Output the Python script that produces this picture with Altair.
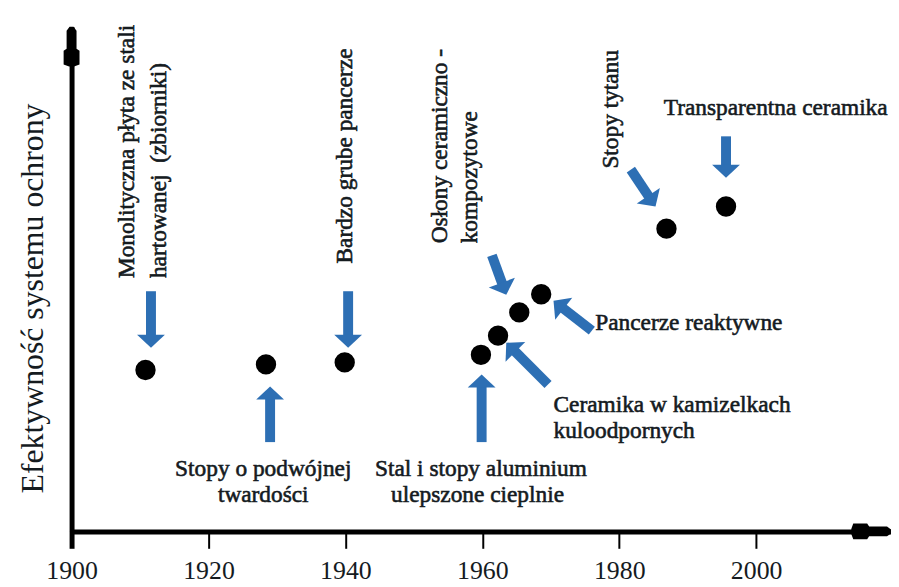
import math
import altair as alt
import pandas as pd

# ---------------- data ----------------
tick_years = [1900, 1920, 1940, 1960, 1980, 2000]
x_domain = [1900, 2019.7]
y_domain = [0, 100]

# technologies (black dots)
point_year = [1910.8, 1928.4, 1939.9, 1959.8, 1962.3, 1965.4, 1968.6, 1986.9, 1995.6]
point_eff = [32.0, 33.1, 33.5, 35.0, 38.8, 43.4, 47.0, 60.0, 64.4]

# blue arrows: tail (x1, y1) -> tip (x2, y2)
arrow_x1 = [1911.6, 1929.0, 1940.4, 1961.4, 1976.0, 1969.6, 1959.9, 1981.7, 1995.6]
arrow_y1 = [47.6, 17.7, 47.6, 54.7, 39.8, 29.1, 17.7, 71.7, 78.3]
arrow_x2 = [1911.6, 1929.0, 1940.4, 1963.5, 1970.4, 1963.5, 1959.9, 1985.3, 1995.6]
arrow_y2 = [36.4, 28.7, 36.4, 46.9, 45.7, 37.4, 31.1, 64.4, 70.1]

# vertical labels (anchored at their lower end)
v_text = ["Monolityczna płyta ze stali", "hartowanej\u00a0 (zbiorniki)", "Bardzo grube pancerze",
          "Osłony ceramiczno -", "kompozytowe", "Stopy tytanu"]
v_x = [1908.1, 1912.8, 1940.0, 1953.8, 1958.2, 1978.8]
v_y = [50.2, 50.2, 53.1, 57.1, 57.1, 71.9]

# horizontal labels, left aligned
l_text = ["Transparentna ceramika", "Pancerze reaktywne", "Ceramika w kamizelkach", "kuloodpornych"]
l_x = [1986.5, 1976.5, 1970.4, 1970.4]
l_y = [82.5, 40.0, 23.6, 18.5]

# horizontal labels, centred
c_text = ["Stopy o podwójnej", "twardości", "Stal i stopy aluminium", "ulepszone cieplnie"]
c_x = [1928.0, 1928.0, 1959.8, 1959.3]
c_y = [11.0, 5.9, 11.0, 5.9]

# ---------------- layout ----------------
W, H = 825, 508
FONT = "Liberation Serif"
TXT = "#151b1f"
BLUE = "#2d6fb4"
sx = W / (x_domain[1] - x_domain[0])
sy = H / (y_domain[1] - y_domain[0])

# arrow geometry (pixel-space directions)
shaft_x2, shaft_y2, head_ang = [], [], []
for x1, y1, x2, y2 in zip(arrow_x1, arrow_y1, arrow_x2, arrow_y2):
    dx = (x2 - x1) * sx
    dy = -(y2 - y1) * sy
    L = math.hypot(dx, dy)
    ux, uy = dx / L, dy / L
    shaft_x2.append(x2 - 7 * ux / sx)
    shaft_y2.append(y2 + 7 * uy / sy)
    head_ang.append(math.degrees(math.atan2(-dx, dy)) % 360)

shafts = pd.DataFrame({"x": arrow_x1, "y": arrow_y1, "x2": shaft_x2, "y2": shaft_y2})
heads = pd.DataFrame({"x": arrow_x2, "y": arrow_y2, "ang": head_ang})
points = pd.DataFrame({"x": point_year, "y": point_eff})
vtext = pd.DataFrame({"x": v_x, "y": v_y, "t": v_text})
ltext = pd.DataFrame({"x": l_x, "y": l_y, "t": l_text})
ctext = pd.DataFrame({"x": c_x, "y": c_y, "t": c_text})
axis_tips = pd.DataFrame({"x": [x_domain[0], x_domain[1]], "y": [y_domain[1], y_domain[0]], "ang": [0, 90]})

xscale = alt.Scale(domain=x_domain, nice=False, zero=False)
yscale = alt.Scale(domain=y_domain, nice=False, zero=False)

xaxis = alt.Axis(
    values=tick_years, format="d", title=None, grid=False,
    domainColor="black", domainWidth=5,
    tickColor="black", tickSize=17,
    tickWidth={"condition": {"test": "datum.value === 1900", "value": 5}, "value": 2},
    labelFont=FONT, labelFontSize=26, labelColor=TXT, labelPadding=9,
    labelOverlap=False, labelFlush=False,
)
yaxis = alt.Axis(
    grid=False, ticks=False, labels=False,
    domainColor="black", domainWidth=5,
    title="Efektywność systemu ochrony", titleFont=FONT, titleFontSize=32,
    titleFontWeight="normal", titleColor=TXT, titleAngle=270,
    titleX=-39, titleY=273, titleAlign="center", titleBaseline="middle",
)

X = alt.X("x:Q", scale=xscale, axis=xaxis)
Y = alt.Y("y:Q", scale=yscale, axis=yaxis)

head_path = "M0,0L-1,-0.93L1,-0.93Z"
axis_head_path = ("M-0.1,0L0.1,0L0.25,0.2L0.25,1.1L0.4,1.2L0.4,1.9L0.125,2"
                  "L-0.125,2L-0.4,1.9L-0.4,1.2L-0.25,1.1L-0.25,0.2Z")

txt_style = dict(font=FONT, fontSize=23.5, color=TXT, stroke=TXT, strokeWidth=0.6)

dots = alt.Chart(points).mark_circle(size=420, color="black", opacity=1).encode(x=X, y=Y)
shaft_layer = alt.Chart(shafts).mark_rule(color=BLUE, strokeWidth=10).encode(
    x=X, y=Y, x2="x2:Q", y2="y2:Q")
head_layer = alt.Chart(heads).mark_point(
    shape=head_path, size=784, filled=True, color=BLUE, opacity=1, strokeWidth=0
).encode(x=X, y=Y, angle=alt.Angle("ang:Q", scale=None))
axis_heads = alt.Chart(axis_tips).mark_point(
    shape=axis_head_path, size=1600, filled=True, color="black", opacity=1, strokeWidth=0
).encode(x=X, y=Y, angle=alt.Angle("ang:Q", scale=None))

v_layer = alt.Chart(vtext).mark_text(
    angle=270, align="left", baseline="middle", **txt_style
).encode(x=X, y=Y, text="t:N")
l_layer = alt.Chart(ltext).mark_text(
    align="left", baseline="alphabetic", **txt_style
).encode(x=X, y=Y, text="t:N")
c_layer = alt.Chart(ctext).mark_text(
    align="center", baseline="alphabetic", **txt_style
).encode(x=X, y=Y, text="t:N")

chart = alt.layer(
    shaft_layer, head_layer, dots, axis_heads, v_layer, l_layer, c_layer
).properties(
    width=W, height=H,
    autosize=alt.AutoSizeParams(type="none"),
    padding={"left": 64, "top": 17, "right": 0, "bottom": 53},
    background="white",
).configure_view(stroke=None)

chart.save("out.html", embed_options={"renderer": "svg", "actions": False})
